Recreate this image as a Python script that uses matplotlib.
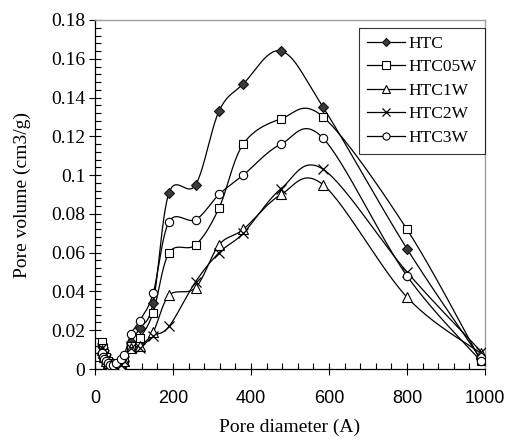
import numpy as np
import matplotlib
matplotlib.use("Agg")
import matplotlib.pyplot as plt
from matplotlib.ticker import MultipleLocator, FuncFormatter

# ---- data ----
diam = [17, 20, 24, 28, 33, 39, 46, 55, 66, 75, 92, 115, 149, 190, 258, 318, 380, 477, 585, 800, 990]
htc    = [0.012, 0.009, 0.007, 0.005, 0.004, 0.003, 0.002, 0.002, 0.003, 0.004, 0.014, 0.021, 0.034, 0.091, 0.095, 0.133, 0.147, 0.164, 0.135, 0.062, 0.005]
htc05w = [0.014, 0.011, 0.008, 0.006, 0.004, 0.003, 0.002, 0.002, 0.003, 0.005, 0.012, 0.016, 0.029, 0.060, 0.064, 0.083, 0.116, 0.129, 0.130, 0.072, 0.004]
htc1w  = [0.010, 0.008, 0.006, 0.004, 0.003, 0.002, 0.001, 0.001, 0.002, 0.004, 0.011, 0.012, 0.019, 0.038, 0.042, 0.064, 0.072, 0.090, 0.095, 0.037, 0.008]
htc2w  = [0.011, 0.009, 0.007, 0.005, 0.003, 0.002, 0.002, 0.001, 0.002, 0.004, 0.011, 0.011, 0.017, 0.022, 0.045, 0.060, 0.070, 0.093, 0.103, 0.050, 0.009]
htc3w  = [0.008, 0.006, 0.005, 0.004, 0.003, 0.002, 0.002, 0.003, 0.005, 0.007, 0.018, 0.025, 0.039, 0.076, 0.077, 0.090, 0.100, 0.116, 0.119, 0.048, 0.004]
series_names = ["HTC", "HTC05W", "HTC1W", "HTC2W", "HTC3W"]
x_ticks = [0, 200, 400, 600, 800, 1000]


def smooth(x, y, n=30):
    """Excel-style smoothed line (Bezier with Catmull-Rom control points)."""
    x = np.asarray(x, float)
    y = np.asarray(y, float)
    P = np.column_stack([x, y])
    out = [P[0]]
    for i in range(len(P) - 1):
        p0 = P[i - 1] if i > 0 else P[i]
        p1 = P[i]
        p2 = P[i + 1]
        p3 = P[i + 2] if i + 2 < len(P) else P[i + 1]
        c1 = p1 + (p2 - p0) / 6.0
        c2 = p2 - (p3 - p1) / 6.0
        t = np.linspace(0, 1, n)[1:, None]
        seg = ((1 - t) ** 3) * p1 + 3 * ((1 - t) ** 2) * t * c1 + 3 * (1 - t) * t ** 2 * c2 + t ** 3 * p2
        out.extend(seg)
    out = np.array(out)
    return out[:, 0], out[:, 1]


serif = "Liberation Serif"
sans = "Liberation Sans"

fig = plt.figure(figsize=(5.1, 4.4), dpi=100)
# axes: left 95px, right 485px, bottom 369px, top 20px
ax = fig.add_axes([95 / 510, (440 - 369) / 440, 390 / 510, 349 / 440])

styles = [
    dict(marker="D", mfc="#3a3a3a", mec="#111111", ms=5),
    dict(marker="s", mfc="white", mec="black", ms=6),
    dict(marker="^", mfc="white", mec="black", ms=6.5),
    dict(marker="x", mfc="none", mec="black", ms=7, mew=0.9),
    dict(marker="o", mfc="white", mec="black", ms=6),
]
all_y = [htc, htc05w, htc1w, htc2w, htc3w]
handles = []
for name, yv, st in zip(series_names, all_y, styles):
    sx, sy = smooth(diam, yv)
    ax.plot(sx, sy, color="black", lw=0.9, zorder=2)
    st = dict(st)
    mew = st.pop("mew", 0.8)
    ax.plot(diam, yv, ls="none", mew=mew, zorder=3, **st)
    h, = ax.plot([], [], color="black", lw=0.9, mew=mew, **st)
    h.set_markersize(st["ms"] * 0.85)
    handles.append(h)

ax.set_xlim(0, 1000)
ax.set_ylim(0, 0.18)
ax.set_xticks(x_ticks)
ax.xaxis.set_minor_locator(MultipleLocator(40))
ax.yaxis.set_major_locator(MultipleLocator(0.02))
ax.yaxis.set_minor_locator(MultipleLocator(0.004))
ax.yaxis.set_major_formatter(FuncFormatter(lambda v, p: "0" if abs(v) < 1e-9 else f"{v:.2f}".rstrip("0")))

ax.tick_params(axis="both", which="major", direction="inout", length=8, width=0.8, color="black")
ax.tick_params(axis="both", which="minor", direction="in", length=4, width=0.8, color="black")
ax.tick_params(axis="y", which="major", labelsize=14, pad=3)
ax.tick_params(axis="x", which="major", labelsize=13, pad=11)
for lab in ax.get_yticklabels():
    lab.set_fontfamily(serif)
for lab in ax.get_xticklabels():
    lab.set_fontfamily(sans)

for s in ["top", "right"]:
    ax.spines[s].set_color("#a0a0a0")
    ax.spines[s].set_linewidth(1.0)
for s in ["left", "bottom"]:
    ax.spines[s].set_color("black")
    ax.spines[s].set_linewidth(0.9)

ax.set_xlabel("Pore diameter (A)", fontfamily=serif, fontsize=14)
ax.set_ylabel("Pore volume (cm3/g)", fontfamily=serif, fontsize=14)
ax.xaxis.set_label_coords(0.5, (369 - 419) / 349)
ax.yaxis.set_label_coords((31 - 95) / 390, 0.5)

leg = ax.legend(handles, series_names, loc="upper right", bbox_to_anchor=(1.0, 0.977),
                prop={"family": serif, "size": 12.5}, frameon=True, fancybox=False,
                edgecolor="black", handlelength=2.2, handletextpad=0.2,
                borderpad=0.45, labelspacing=0.42, borderaxespad=0.0)
leg.get_frame().set_linewidth(0.8)

fig.savefig("out.png", dpi=100)
